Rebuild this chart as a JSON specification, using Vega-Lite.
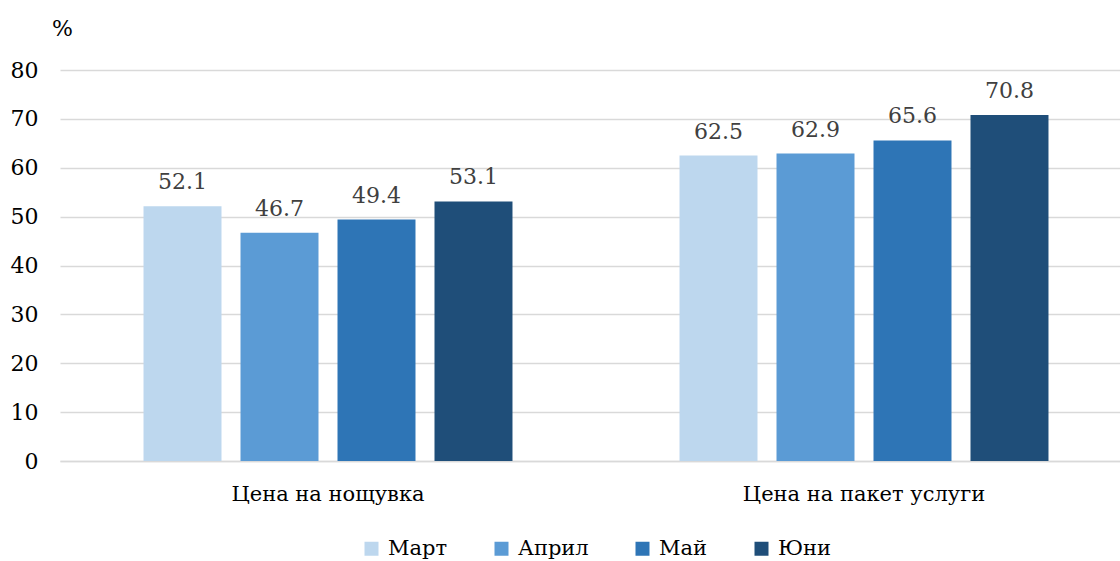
{
  "$schema": "https://vega.github.io/schema/vega-lite/v6.json",
  "autosize": "none",
  "width": 1072,
  "height": 391,
  "padding": {"left": 60, "top": 70, "right": 0, "bottom": 100},
  "background": "white",
  "config": {
    "view": {"stroke": null},
    "font": "DejaVu Serif",
    "axis": {"labelFont": "DejaVu Serif", "titleFont": "DejaVu Serif"},
    "legend": {"labelFont": "DejaVu Serif"}
  },
  "data": {
    "values": [
      {"cat": "Цена на нощувка", "month": "Март", "value": 52.1},
      {"cat": "Цена на нощувка", "month": "Април", "value": 46.7},
      {"cat": "Цена на нощувка", "month": "Май", "value": 49.4},
      {"cat": "Цена на нощувка", "month": "Юни", "value": 53.1},
      {"cat": "Цена на пакет услуги", "month": "Март", "value": 62.5},
      {"cat": "Цена на пакет услуги", "month": "Април", "value": 62.9},
      {"cat": "Цена на пакет услуги", "month": "Май", "value": 65.6},
      {"cat": "Цена на пакет услуги", "month": "Юни", "value": 70.8}
    ]
  },
  "encoding": {
    "x": {
      "field": "cat", "type": "nominal", "sort": null,
      "scale": {"paddingInner": 0, "paddingOuter": 0},
      "axis": {"title": null, "labelAngle": 0, "labelLimit": 0, "ticks": false, "domain": true, "domainColor": "#D9D9D9", "domainWidth": 1.5, "labelFontSize": 21, "labelColor": "#000000", "labelPadding": 22}
    },
    "xOffset": {
      "field": "month", "type": "nominal", "sort": ["Март", "Април", "Май", "Юни"],
      "scale": {"paddingInner": 0.196, "paddingOuter": 0.861}
    },
    "y": {
      "field": "value", "type": "quantitative",
      "scale": {"domain": [0, 80]},
      "axis": {"values": [0,10,20,30,40,50,60,70,80], "labelOverlap": false, "domain": false, "ticks": false, "grid": true, "gridColor": "#D9D9D9", "gridWidth": 1.5, "labelFontSize": 22, "labelColor": "#000000", "labelPadding": 22,
        "title": "%", "titleAngle": 0, "titleX": 2, "titleY": -42, "titleAlign": "center", "titleBaseline": "middle", "titleFontSize": 22, "titleFontWeight": "normal", "titleColor": "#000000"}
    }
  },
  "layer": [
    {
      "mark": {"type": "bar"},
      "encoding": {
        "color": {
          "field": "month", "type": "nominal", "sort": ["Март", "Април", "Май", "Юни"],
          "scale": {"domain": ["Март", "Април", "Май", "Юни"], "range": ["#BDD7EE", "#5B9BD5", "#2E75B6", "#1F4E79"]},
          "legend": {"title": null, "orient": "none", "direction": "horizontal", "legendX": 301, "legendY": 468, "symbolType": "square", "symbolSize": 196, "symbolStrokeWidth": 0, "labelFontSize": 21, "labelColor": "#000000", "columnPadding": 43, "labelOffset": 6}
        }
      }
    },
    {
      "mark": {"type": "text", "baseline": "bottom", "dy": -12, "fontSize": 22, "color": "#404040", "font": "DejaVu Serif"},
      "encoding": {
        "text": {"field": "value", "type": "quantitative", "format": ".1f"}
      }
    }
  ]
}
